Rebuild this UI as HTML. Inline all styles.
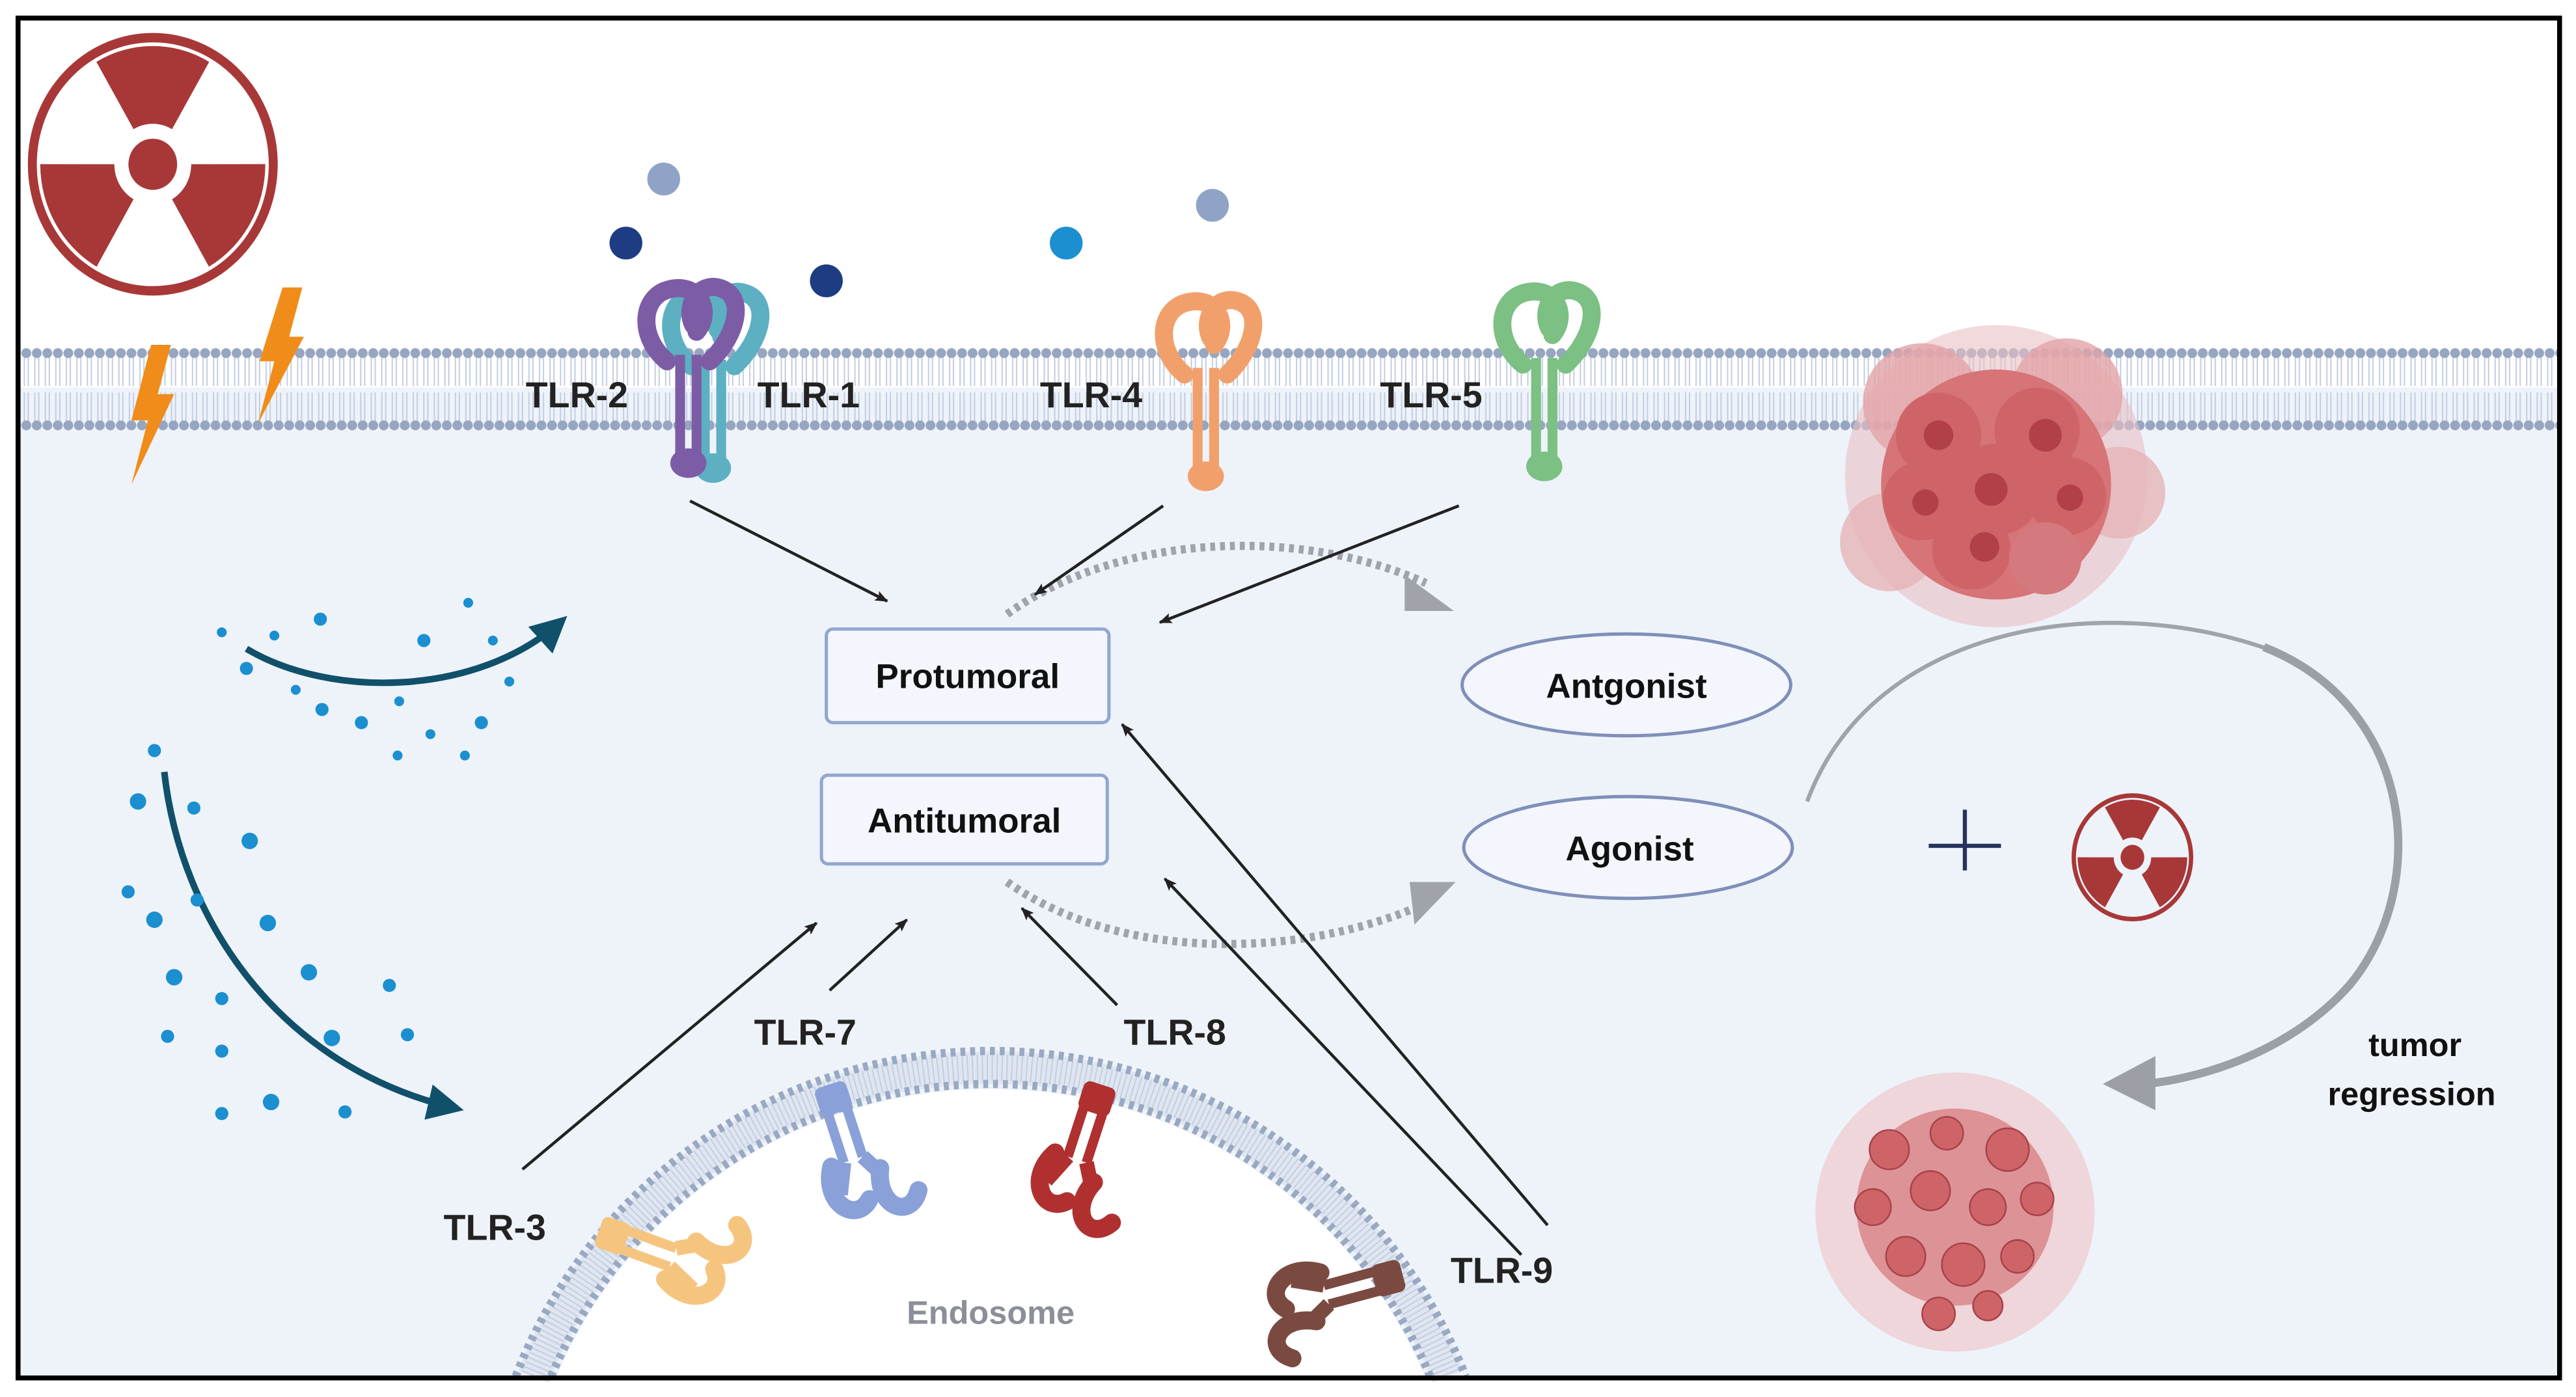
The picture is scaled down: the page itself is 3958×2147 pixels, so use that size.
<!DOCTYPE html>
<html><head><meta charset="utf-8"><style>
html,body{margin:0;padding:0;background:#fff;width:3958px;height:2147px;overflow:hidden}
svg{display:block}
text{font-family:"Liberation Sans",sans-serif}
</style></head><body>
<svg width="3958" height="2147" viewBox="0 0 1568 850.6" preserveAspectRatio="none" xmlns="http://www.w3.org/2000/svg" overflow="hidden">
<defs>
<pattern id="mem" x="0" y="211" width="6.4" height="52" patternUnits="userSpaceOnUse">
<line x1="2" y1="6" x2="2" y2="24" stroke="#c2cde0" stroke-width="0.8"/>
<line x1="4.4" y1="6" x2="4.4" y2="24" stroke="#c2cde0" stroke-width="0.8"/>
<line x1="2" y1="28" x2="2" y2="46" stroke="#c2cde0" stroke-width="0.8"/>
<line x1="4.4" y1="28" x2="4.4" y2="46" stroke="#c2cde0" stroke-width="0.8"/>
<circle cx="3.2" cy="4" r="3" fill="#97a6c0"/>
<circle cx="3.2" cy="48" r="3" fill="#97a6c0"/>
</pattern>
<g id="rad">
<circle r="94" fill="none" stroke="#a83838" stroke-width="7"/>
<g fill="#a83838">
<path d="M-44,-76 A88,88 0 0 1 44,-76 L15,-26 A30,30 0 0 0 -15,-26Z"/>
<path d="M-44,-76 A88,88 0 0 1 44,-76 L15,-26 A30,30 0 0 0 -15,-26Z" transform="rotate(120)"/>
<path d="M-44,-76 A88,88 0 0 1 44,-76 L15,-26 A30,30 0 0 0 -15,-26Z" transform="rotate(240)"/>
<circle r="19"/>
</g>
</g>
<marker id="ab" viewBox="0 0 10 10" refX="9" refY="5" markerWidth="8" markerHeight="8" orient="auto" markerUnits="userSpaceOnUse"><path d="M0,1 L10,5 L0,9 L2,5Z" fill="#222"/></marker>
<marker id="at" viewBox="0 0 10 10" refX="8" refY="5" markerWidth="22" markerHeight="22" orient="auto" markerUnits="userSpaceOnUse"><path d="M0,0 L10,5 L0,10Z" fill="#11506a"/></marker>
<g id="rec">
<path d="M-12,-40 C-30,-55 -28,-80 -10,-84 C8,-88 16,-70 6,-58" fill="none" stroke="currentColor" stroke-width="11" stroke-linecap="round"/>
<path d="M14,-40 C30,-55 36,-78 22,-84 C8,-90 -2,-74 4,-62" fill="none" stroke="currentColor" stroke-width="11" stroke-linecap="round"/>
<rect x="-7" y="-44" width="6" height="62" fill="currentColor"/>
<rect x="3" y="-44" width="6" height="62" fill="currentColor"/>
<ellipse cx="1" cy="22" rx="11" ry="9" fill="currentColor"/>
</g>
<g id="erec">
<path d="M-6,0 L-6,40 M6,0 L6,40" stroke="currentColor" stroke-width="6"/>
<rect x="-10" y="-8" width="20" height="18" rx="4" fill="currentColor"/>
<path d="M-14,40 C-26,60 -10,78 2,66 M14,50 C4,72 22,86 32,70" fill="none" stroke="currentColor" stroke-width="11" stroke-linecap="round"/>
<path d="M-6,40 L-14,58 M6,40 L14,54" stroke="currentColor" stroke-width="9"/>
</g>
</defs>

<rect x="0" y="0" width="1568" height="850.6" fill="#fff"/>
<rect x="12" y="236" width="1545" height="602" fill="#eef3fa"/>
<rect x="12" y="211" width="1545" height="52" fill="url(#mem)"/>

<!-- endosome -->
<path d="M324.7,838 A300,300 0 0 1 881.3,838" fill="none" stroke="#dfe6f1" stroke-width="20"/>
<path d="M324.7,838 A300,300 0 0 1 881.3,838" fill="none" stroke="#c3cee0" stroke-width="16" stroke-dasharray="0.8 2.2"/>
<path d="M313.9,838 A310,310 0 0 1 892.1,838" fill="none" stroke="#9aa9c2" stroke-width="5" stroke-dasharray="3 3"/>
<path d="M335.5,838 A290,290 0 0 1 870.5,838" fill="none" stroke="#9aa9c2" stroke-width="5" stroke-dasharray="3 3"/>
<path d="M338.8,838 A287,287 0 0 1 867.2,838 Z" fill="#fff"/>
<text x="603" y="806" font-size="20" font-weight="bold" fill="#8a8f98" text-anchor="middle">Endosome</text>

<!-- border -->
<rect x="11" y="11" width="1547" height="828" fill="none" stroke="#000" stroke-width="3"/>

<!-- radiation -->
<g transform="translate(93,100) scale(0.78,0.82)"><use href="#rad"/></g>
<g transform="translate(1298,522) scale(0.38,0.40)"><use href="#rad"/></g>

<!-- lightning -->
<path d="M92,210 L104,210 L96,240 L106,240 L80,295 L90,256 L80,256Z" fill="#f08c1a"/>
<path d="M172,175 L184,175 L176,205 L185,205 L157,258 L167,220 L158,220Z" fill="#f08c1a"/>

<!-- ligands -->
<circle cx="404" cy="109" r="10" fill="#8fa3c6"/>
<circle cx="381" cy="148" r="10" fill="#1e3c82"/>
<circle cx="503" cy="171" r="10" fill="#1e3c82"/>
<circle cx="649" cy="148" r="10" fill="#1b8fd0"/>
<circle cx="738" cy="125" r="10" fill="#8fa3c6"/>

<!-- receptors on membrane -->
<g transform="translate(433,263)" color="#5cb0c2"><use href="#rec"/></g>
<g transform="translate(418,260)" color="#7d5ca6"><use href="#rec"/></g>
<g transform="translate(733,268)" color="#f2a06b"><use href="#rec"/></g>
<g transform="translate(939,262)" color="#7cc084"><use href="#rec"/></g>

<g font-size="22" font-weight="bold" fill="#222">
<text x="320" y="248">TLR-2</text>
<text x="461" y="248">TLR-1</text>
<text x="633" y="248">TLR-4</text>
<text x="840" y="248">TLR-5</text>
<text x="270" y="755">TLR-3</text>
<text x="459" y="636">TLR-7</text>
<text x="684" y="636">TLR-8</text>
<text x="883" y="781">TLR-9</text>
</g>

<!-- endosome receptors -->
<g transform="translate(507,668) rotate(-18)" color="#8aa0d8"><use href="#erec"/></g>
<g transform="translate(668,668) rotate(18)" color="#b03030"><use href="#erec"/></g>
<g transform="translate(372,752) rotate(-70)" color="#f5c580"><use href="#erec"/></g>
<g transform="translate(846,778) rotate(75)" color="#7a4a40"><use href="#erec"/></g>

<!-- boxes -->
<rect x="503" y="383" width="172" height="57" rx="4" fill="#f3f6fc" stroke="#93a6cf" stroke-width="2"/>
<text x="589" y="419" font-size="21" font-weight="bold" text-anchor="middle" fill="#111">Protumoral</text>
<rect x="500" y="472" width="174" height="54" rx="4" fill="#f3f6fc" stroke="#93a6cf" stroke-width="2"/>
<text x="587" y="507" font-size="21" font-weight="bold" text-anchor="middle" fill="#111">Antitumoral</text>
<ellipse cx="990" cy="417" rx="100" ry="31" fill="#f3f6fc" stroke="#7f8fb8" stroke-width="2"/>
<text x="990" y="425" font-size="21" font-weight="bold" text-anchor="middle" fill="#111">Antgonist</text>
<ellipse cx="991" cy="516" rx="100" ry="31" fill="#f3f6fc" stroke="#7f8fb8" stroke-width="2"/>
<text x="992" y="524" font-size="21" font-weight="bold" text-anchor="middle" fill="#111">Agonist</text>

<!-- dashed curves -->
<path d="M613,374 C680,325 790,320 868,355" fill="none" stroke="#a0a4aa" stroke-width="5" stroke-dasharray="3 3"/>
<path d="M855,350 L885,372 L855,372Z" fill="#a0a4aa"/>
<path d="M613,537 C680,585 790,585 868,550" fill="none" stroke="#a0a4aa" stroke-width="5" stroke-dasharray="3 3"/>
<path d="M858,537 L886,537 L861,563Z" fill="#a0a4aa"/>

<!-- black arrows -->
<g stroke="#222" stroke-width="1.8" fill="none" marker-end="url(#ab)">
<line x1="420" y1="305" x2="540" y2="366"/>
<line x1="708" y1="308" x2="630" y2="362"/>
<line x1="888" y1="308" x2="706" y2="379"/>
<line x1="942" y1="746" x2="683" y2="441"/>
<line x1="926" y1="764" x2="709" y2="535"/>
<line x1="318" y1="712" x2="497" y2="562"/>
<line x1="505" y1="603" x2="552" y2="560"/>
<line x1="680" y1="612" x2="622" y2="553"/>
</g>

<!-- dots + teal arrows -->
<path d="M150,395 C200,425 290,425 342,378" fill="none" stroke="#11506a" stroke-width="4" marker-end="url(#at)"/>
<path d="M100,470 C110,560 170,650 278,675" fill="none" stroke="#11506a" stroke-width="4" marker-end="url(#at)"/>
<g fill="#1b8fd0">
<circle cx="135" cy="385" r="3"/><circle cx="195" cy="377" r="4"/><circle cx="258" cy="390" r="4"/><circle cx="285" cy="367" r="3"/>
<circle cx="150" cy="407" r="4"/><circle cx="180" cy="420" r="3"/><circle cx="220" cy="440" r="4"/><circle cx="243" cy="427" r="3"/>
<circle cx="196" cy="432" r="4"/><circle cx="262" cy="447" r="3"/><circle cx="293" cy="440" r="4"/><circle cx="242" cy="460" r="3"/><circle cx="283" cy="460" r="3"/>
<circle cx="167" cy="387" r="3"/><circle cx="310" cy="415" r="3"/><circle cx="300" cy="390" r="3"/>
<circle cx="94" cy="457" r="4"/><circle cx="84" cy="488" r="5"/><circle cx="118" cy="492" r="4"/><circle cx="152" cy="512" r="5"/>
<circle cx="78" cy="543" r="4"/><circle cx="94" cy="560" r="5"/><circle cx="120" cy="548" r="4"/><circle cx="163" cy="562" r="5"/>
<circle cx="106" cy="595" r="5"/><circle cx="135" cy="608" r="4"/><circle cx="188" cy="592" r="5"/><circle cx="237" cy="600" r="4"/>
<circle cx="102" cy="631" r="4"/><circle cx="135" cy="640" r="4"/><circle cx="202" cy="632" r="5"/><circle cx="248" cy="630" r="4"/>
<circle cx="165" cy="671" r="5"/><circle cx="135" cy="678" r="4"/><circle cx="210" cy="677" r="4"/>
</g>

<!-- tumor top -->
<g>
<circle cx="1215" cy="290" r="92" fill="#e9c0c3" opacity="0.6"/>
<circle cx="1170" cy="245" r="36" fill="#e2a4a8" opacity="0.8"/>
<circle cx="1258" cy="240" r="34" fill="#e2a4a8" opacity="0.8"/>
<circle cx="1150" cy="330" r="30" fill="#e6b4b7" opacity="0.8"/>
<circle cx="1290" cy="300" r="28" fill="#e6b4b7" opacity="0.8"/>
<circle cx="1215" cy="295" r="70" fill="#d67478"/>
<circle cx="1180" cy="265" r="26" fill="#cf6468"/><circle cx="1180" cy="265" r="9" fill="#b14048"/>
<circle cx="1240" cy="262" r="26" fill="#cf6468"/><circle cx="1245" cy="265" r="10" fill="#b14048"/>
<circle cx="1215" cy="298" r="28" fill="#cf6468"/><circle cx="1212" cy="298" r="10" fill="#b14048"/>
<circle cx="1170" cy="305" r="24" fill="#cf6468"/><circle cx="1172" cy="306" r="8" fill="#b14048"/>
<circle cx="1258" cy="302" r="24" fill="#cf6468"/><circle cx="1260" cy="303" r="8" fill="#b14048"/>
<circle cx="1200" cy="335" r="24" fill="#cf6468"/><circle cx="1208" cy="333" r="9" fill="#b14048"/>
<circle cx="1245" cy="340" r="22" fill="#d47a7e"/>
</g>

<!-- tumor bottom -->
<g>
<circle cx="1190" cy="738" r="85" fill="#f0c9cc" opacity="0.7"/>
<circle cx="1190" cy="735" r="60" fill="#dd9296"/>
<g fill="#cf6468" stroke="#a8434a" stroke-width="1">
<circle cx="1150" cy="700" r="12"/><circle cx="1185" cy="690" r="10"/><circle cx="1222" cy="700" r="13"/>
<circle cx="1140" cy="735" r="11"/><circle cx="1175" cy="725" r="12"/><circle cx="1210" cy="735" r="11"/><circle cx="1240" cy="730" r="10"/>
<circle cx="1160" cy="765" r="12"/><circle cx="1195" cy="770" r="13"/><circle cx="1228" cy="765" r="10"/>
<circle cx="1180" cy="800" r="10"/><circle cx="1210" cy="795" r="9"/>
</g>
</g>

<!-- big circular arrow -->
<path d="M1100,488 C1140,380 1280,360 1380,395" fill="none" stroke="#a0a4aa" stroke-width="2.5"/>
<path d="M1378,394 C1470,430 1480,540 1430,600 C1390,645 1330,658 1305,660" fill="none" stroke="#9ca0a6" stroke-width="5"/>
<path d="M1280,660 L1312,643 L1312,676Z" fill="#9ca0a6"/>
<text x="1470" y="643" font-size="20" font-weight="bold" text-anchor="middle" fill="#111">tumor</text>
<text x="1468" y="673" font-size="20" font-weight="bold" text-anchor="middle" fill="#111">regression</text>

<!-- plus -->
<path d="M1174,515 L1218,515 M1196,493 L1196,530" stroke="#26335e" stroke-width="2.5"/>
</svg>
</body></html>
